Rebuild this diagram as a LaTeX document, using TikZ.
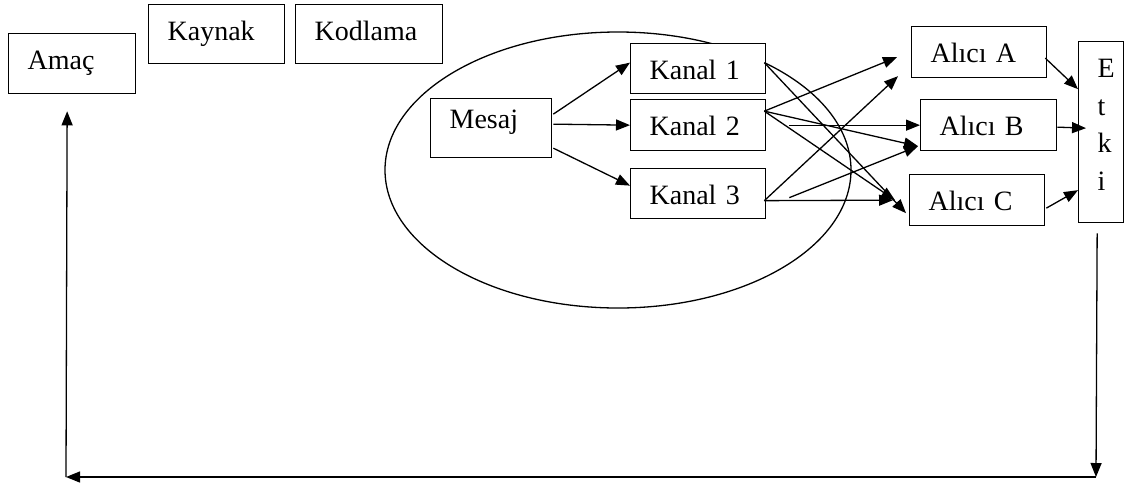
\documentclass[tikz,border=0pt]{standalone}
\usepackage{fontspec}
\setmainfont{Liberation Serif}
\usetikzlibrary{arrows.meta,calc}

\begin{document}
\begin{tikzpicture}[x=0.5pt,y=-0.5pt,line width=0.65pt,
  font=\fontsize{14pt}{17pt}\selectfont,
  box/.style={draw,fill=white,anchor=north west,align=left,
    inner xsep=9.5pt,inner ysep=0pt,text height=18pt},
  arr/.style={-{Triangle[length=7pt,width=5.5pt]}}]

\useasboundingbox (0,0) rectangle (1128,488);

% Source side
\node[box,text width=44.5pt,text depth=12pt] (amac) at (8,33) {Amaç};
\node[box,text width=49pt,text depth=11.5pt] (kaynak) at (148,4) {Kaynak};
\node[box,text width=54.5pt,text depth=11.5pt] (kodlama) at (295,4) {Kodlama};

% Message ellipse
\draw (618,170) ellipse [x radius=116.5pt,y radius=69pt];

% Message and channels
\node[box,text width=41.5pt,text height=15pt,text depth=14.5pt] (mesaj) at (430,98) {Mesaj};
\node[box,text width=48.5pt,text depth=7pt] (k1) at (630,43) {Kanal 1};
\node[box,text width=48.5pt,text depth=7.5pt] (k2) at (630,99) {Kanal 2};
\node[box,text width=48.5pt,text depth=7pt] (k3) at (630,168) {Kanal 3};

% Receivers
\node[box,text width=48.5pt,text depth=7.5pt] (a) at (911,26) {Alıcı A};
\node[box,text width=49pt,text depth=7.5pt] (b) at (920,99) {Alıcı B};
\node[box,text width=48.5pt,text depth=7.5pt] (c) at (909,174) {Alıcı C};

% Effect
\node[box,text width=3.5pt,text depth=72.5pt,
  font=\fontsize{14pt}{18.75pt}\selectfont] (etki) at (1078,41) {E\\t\\k\\i};

% Mesaj to channels
\draw[arr] ($(mesaj.east)+(1,-14)$) -- ($(k1.west)+(0,-6)$);
\draw[arr] ($(mesaj.east)+(1,-4)$) -- (k2.west);
\draw[arr] ($(mesaj.east)+(1,20)$) -- ($(k3.west)+(0,-8)$);

% Channel outlets
\coordinate (k1o) at ($(k1.east)+(-2,-6)$);
\coordinate (k2o) at ($(k2.east)+(-2,-14)$);
\coordinate (k3o) at ($(k3.east)+(-2,7)$);
\coordinate (k2h) at ($(k2.east)+(23,0)$);
\coordinate (k3h) at ($(k3.east)+(23,4)$);

% Channels to receivers
\draw[arr] (k1o) -- ($(c.west)+(-3,13)$);
\draw[arr] (k2o) -- ($(a.west)+(-14,5)$);
\draw[arr] (k2o) -- ($(b.west)+(-2,21)$);
\draw[arr] (k2o) -- ($(c.west)+(-14,0)$);
\draw[arr] (k2h) -- (b.west);
\draw[arr] (k3o) -- ($(a.west)+(-13,24)$);
\draw[arr] (k3h) -- ($(b.west)+(-2,21)$);
\draw[arr] (k3o) -- ($(c.west)+(-16,0)$);

% Receivers to Etki
\draw[arr] ($(a.east)+(-2,6)$) -- ($(etki.west)+(0,-43)$);
\draw[arr] ($(b.east)+(0,2)$) -- ($(etki.west)+(8,-4)$);
\draw[arr] ($(c.east)+(1,8)$) -- ($(etki.west)+(0,58)$);

% Feedback loop
\coordinate (fbr) at (1096,477);
\coordinate (fbl) at (66,477);
\draw[arr] ($(etki.south)+(-4,10)$) -- (fbr);
\draw[arr] (fbr) -- (fbl);
\draw[arr] (fbl) -- ($(amac.south)+(-5,17)$);

\end{tikzpicture}
\end{document}
